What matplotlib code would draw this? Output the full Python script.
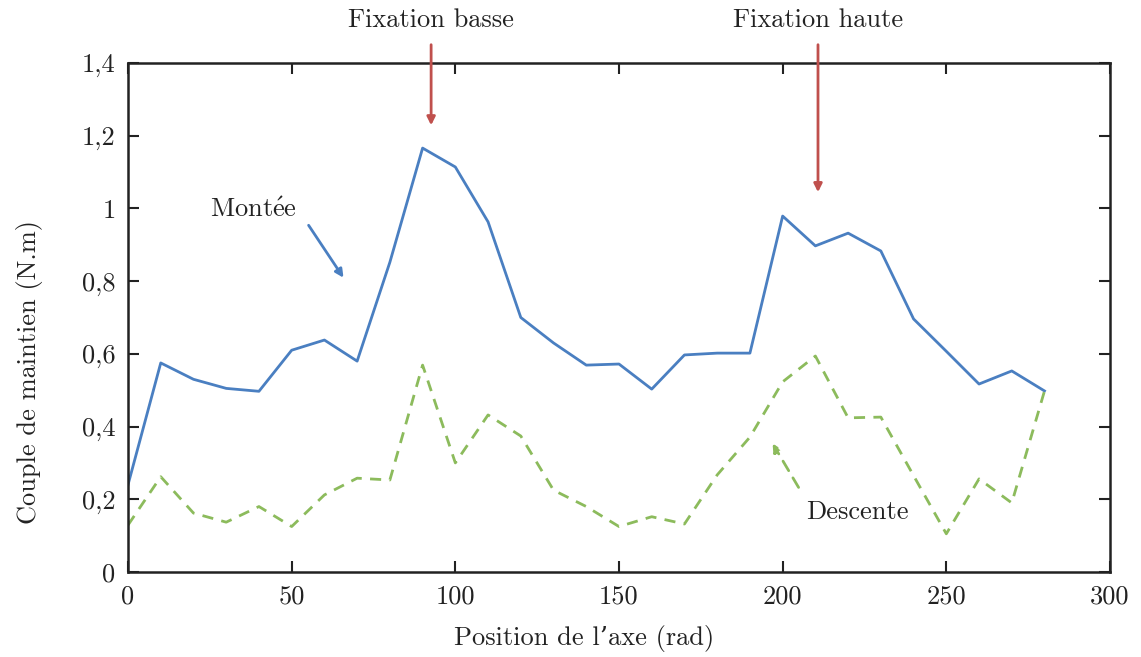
import numpy as np
import matplotlib
matplotlib.use("Agg")
import matplotlib.pyplot as plt

plt.rcParams['font.family'] = ['cmr10', 'DejaVu Serif']
plt.rcParams['axes.formatter.use_mathtext'] = True
plt.rcParams['mathtext.fontset'] = 'cm'

# positions de l'axe (rad)
position = list(range(0, 290, 10))

# couple de maintien (N.m)
montee = [0.24, 0.575, 0.53, 0.505, 0.497, 0.61, 0.638, 0.58, 0.852, 1.166,
          1.114, 0.963, 0.70, 0.63, 0.569, 0.572, 0.503, 0.597, 0.602, 0.602,
          0.979, 0.897, 0.932, 0.883, 0.696, 0.607, 0.517, 0.553, 0.498]
descente = [0.129, 0.262, 0.162, 0.137, 0.18, 0.125, 0.212, 0.258, 0.253, 0.569,
            0.30, 0.432, 0.374, 0.225, 0.18, 0.125, 0.152, 0.132, 0.267, 0.371,
            0.523, 0.594, 0.424, 0.426, 0.265, 0.105, 0.256, 0.19, 0.498]

xticks = [0, 50, 100, 150, 200, 250, 300]
yticks = [0, 0.2, 0.4, 0.6, 0.8, 1.0, 1.2, 1.4]
ytick_labels = ["0", "0,2", "0,4", "0,6", "0,8", "1", "1,2", "1,4"]

blue = '#4a7fc1'
green = '#8cbb5c'
red = '#c0504d'
ink = '#222222'
fs = 19

fig = plt.figure(figsize=(11.41, 6.57), dpi=100)
ax = fig.add_axes([0.1122, 0.1294, 0.8606, 0.7747])

ax.plot(position, montee, color=blue, lw=2)
ax.plot(position, descente, color=green, lw=2, ls=(0, (4, 3)))

ax.set_xlim(0, 300)
ax.set_ylim(0, 1.4)
ax.set_xticks(xticks)
ax.set_xticklabels([str(v) for v in xticks])
ax.set_yticks(yticks)
ax.set_yticklabels(ytick_labels)
ax.tick_params(direction='in', top=True, right=True, length=8, width=1.5,
               labelsize=fs, colors=ink, pad=9)
for s in ax.spines.values():
    s.set_linewidth(1.8)
    s.set_color(ink)

ax.set_xlabel("Position de l\u2019axe (rad)", fontsize=fs, labelpad=12, color=ink)
ax.set_ylabel("Couple de maintien (N.m)", fontsize=fs, labelpad=28, color=ink)
ax.xaxis.label.set_x(0.465)
ax.yaxis.label.set_y(0.393)

# annotations
ax.annotate("", xy=(66.3, 0.803), xytext=(54.7, 0.96),
            arrowprops=dict(arrowstyle='-|>', color=blue, lw=2, mutation_scale=12))
ax.text(38.2, 0.996, r"$\mathrm{Mont\acute{e}e}$", fontsize=fs, ha='center', va='center', color=ink)

ax.annotate("", xy=(196.5, 0.36), xytext=(205.3, 0.226),
            arrowprops=dict(arrowstyle='-|>', color=green, lw=2, ls=(0, (4, 3)),
                            mutation_scale=12))
ax.text(222.7, 0.165, "Descente", fontsize=fs, ha='center', va='center', color=ink)

ax.annotate("", xy=(92.6, 1.221), xytext=(92.6, 1.458), annotation_clip=False,
            arrowprops=dict(arrowstyle='-|>', color=red, lw=2, mutation_scale=12))
ax.text(92.6, 1.518, "Fixation basse", fontsize=fs, ha='center', va='center',
        color=ink, clip_on=False)

ax.annotate("", xy=(210.8, 1.037), xytext=(210.8, 1.458), annotation_clip=False,
            arrowprops=dict(arrowstyle='-|>', color=red, lw=2, mutation_scale=12))
ax.text(210.8, 1.518, "Fixation haute", fontsize=fs, ha='center', va='center',
        color=ink, clip_on=False)

fig.savefig("out.png", dpi=100)
